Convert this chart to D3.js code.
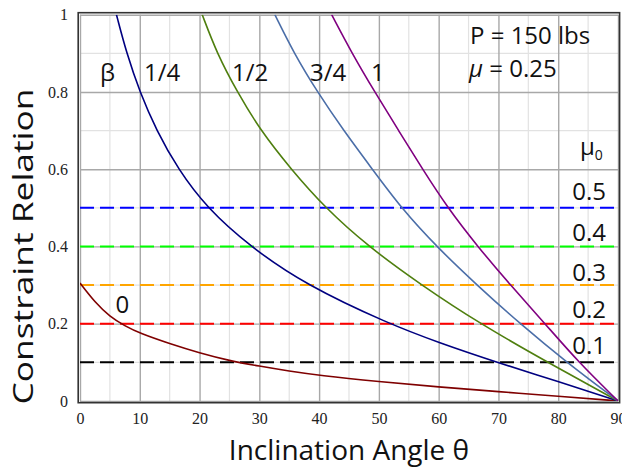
<!DOCTYPE html>
<html>
<head>
<meta charset="utf-8">
<script src="https://cdnjs.cloudflare.com/ajax/libs/d3/7.8.5/d3.min.js"></script>
<style>
  body { margin: 0; background: #fff; }
  text { font-family: "Open Sans", sans-serif; fill: #111; }
  .tick text { font-family: "Liberation Serif", serif; font-size: 16px; fill: #222; }
</style>
</head>
<body>
<svg id="chart" width="622" height="469"></svg>
<script>
// curves: [theta, constraint relation]
var beta0 = [[0,0.305],[2.5,0.255],[5,0.218],[7.5,0.194],[10,0.175],[15,0.148],[20,0.124],[25,0.104],[30,0.09],[35,0.077],[40,0.066],[50,0.05],[60,0.036],[70,0.024],[80,0.012],[90,0]];
var beta14 = [[6.1,1],[7.8,0.9],[10,0.8],[12.8,0.7],[16.4,0.6],[21.2,0.5],[28.4,0.4],[37.8,0.3],[51.6,0.2],[60,0.151],[69.7,0.1],[80,0.05],[90,0]];
var beta12 = [[20.45,1],[22.9,0.9],[26.3,0.8],[30.2,0.7],[35.3,0.6],[41,0.5],[48.2,0.4],[57.1,0.3],[66.9,0.2],[78.2,0.1],[90,0]];
var beta34 = [[32.6,1],[35.8,0.9],[39.7,0.8],[44.1,0.7],[48.9,0.6],[53.7,0.5],[59.6,0.4],[66.4,0.3],[73.6,0.2],[81.4,0.1],[90,0]];
var beta1 = [[42.1,1],[45.5,0.9],[49.3,0.8],[53.3,0.7],[57.3,0.6],[61.5,0.5],[66.5,0.4],[72,0.3],[77.8,0.2],[83.4,0.1],[90,0]];

var mu0Levels = [0.5, 0.4, 0.3, 0.2, 0.1];
var xTicks = [0,10,20,30,40,50,60,70,80,90];
var yTicks = [0,0.2,0.4,0.6,0.8,1];

var svg = d3.select("#chart");
var padL = 80, padT = 14.7, w = 538, h = 386.2;

var x = d3.scaleLinear().domain([0, 90]).range([padL, padL + w]);
var y = d3.scaleLinear().domain([0, 1]).range([padT + h, padT]);

// grid, minor then major
var minorX = d3.range(5, 90, 10), minorY = [0.1, 0.3, 0.5, 0.7, 0.9];
svg.append("g").selectAll("line").data(minorX).enter().append("line")
  .attr("x1", function(d){return x(d)}).attr("x2", function(d){return x(d)})
  .attr("y1", y(0)).attr("y2", y(1))
  .attr("stroke", "#e2e2e2").attr("stroke-width", 1.2);
svg.append("g").selectAll("line").data(minorY).enter().append("line")
  .attr("y1", function(d){return y(d)}).attr("y2", function(d){return y(d)})
  .attr("x1", x(0)).attr("x2", x(90))
  .attr("stroke", "#e2e2e2").attr("stroke-width", 1.2);

svg.append("g")
  .attr("transform", "translate(0," + y(0) + ")")
  .call(d3.axisBottom(x).tickValues(xTicks).tickSize(-h).tickPadding(12).tickFormat(d3.format("d")))
  .call(function(g){ g.select(".domain").remove(); })
  .call(function(g){ g.selectAll(".tick line").attr("stroke", "#a8a8a8").attr("stroke-width", 1.4); });

svg.append("g")
  .attr("transform", "translate(" + x(0) + ",0)")
  .call(d3.axisLeft(y).tickValues(yTicks).tickSize(-w).tickPadding(12).tickFormat(function(d){ return d === 0 || d === 1 ? String(d) : d.toFixed(1); }))
  .call(function(g){ g.select(".domain").remove(); })
  .call(function(g){ g.selectAll(".tick line").attr("stroke", "#a8a8a8").attr("stroke-width", 1.4); });

// frame
svg.append("rect")
  .attr("x", x(0) - 1.8).attr("y", y(1) - 2)
  .attr("width", w + 3.4).attr("height", h + 3.8)
  .attr("fill", "none").attr("stroke", "#333").attr("stroke-width", 1.6);

// friction levels
var dashColors = ["#0000ff", "#00ff00", "#ffa500", "#ff0000", "#000000"];
svg.append("g").selectAll("line").data(mu0Levels).enter().append("line")
  .attr("x1", x(0)).attr("x2", x(90))
  .attr("y1", function(d){return y(d)}).attr("y2", function(d){return y(d)})
  .attr("stroke", function(d, i){ return dashColors[i]; })
  .attr("stroke-width", 2)
  .attr("stroke-dasharray", "14,6");

svg.append("clipPath").attr("id", "plotClip")
  .append("rect").attr("x", x(0)).attr("y", y(1)).attr("width", w).attr("height", h);

var line = d3.line()
  .x(function(d){ return x(d[0]); })
  .y(function(d){ return y(d[1]); })
  .curve(d3.curveBasis);

var curves = [beta0, beta14, beta12, beta34, beta1];
var curveColors = ["#7f0000", "#000080", "#4f7f0f", "#4b6ea8", "#800080"];
svg.append("g").attr("clip-path", "url(#plotClip)")
  .selectAll("path").data(curves).enter().append("path")
  .attr("d", line)
  .attr("fill", "none")
  .attr("stroke", function(d, i){ return curveColors[i]; })
  .attr("stroke-width", 1.6);

// beta labels
var betaLabels = [
  {t: "\u03b2", x: 100, y: 81},
  {t: "1/4", x: 144, y: 81},
  {t: "1/2", x: 232, y: 81},
  {t: "3/4", x: 310, y: 81},
  {t: "1", x: 371, y: 81},
  {t: "0", x: 115.5, y: 312.5}
];
svg.append("g").selectAll("text").data(betaLabels).enter().append("text")
  .attr("x", function(d){return d.x}).attr("y", function(d){return d.y})
  .style("font-size", "24px")
  .text(function(d){return d.t});

svg.append("text").attr("x", 470).attr("y", 44.3).style("font-size", "24px").text("P = 150 lbs");
var mu = svg.append("text").attr("x", 469).attr("y", 77.3).style("font-size", "24px");
mu.append("tspan").style("font-style", "italic").text("\u03bc");
mu.append("tspan").text(" = 0.25");

var mu0 = svg.append("text").attr("x", 580).attr("y", 155).style("font-size", "24px");
mu0.append("tspan").text("\u03bc");
mu0.append("tspan").attr("dy", 5).style("font-size", "14px").text("0");

var mu0LabelY = [200, 240.5, 280.7, 318.3, 354];
svg.append("g").selectAll("text").data(mu0Levels).enter().append("text")
  .attr("x", 606).attr("y", function(d, i){ return mu0LabelY[i]; })
  .attr("text-anchor", "end")
  .style("font-size", "24px")
  .text(function(d){ return d.toFixed(1); });

// axis titles
svg.append("text")
  .attr("x", x(45)).attr("y", 460)
  .attr("text-anchor", "middle")
  .style("font-size", "28px")
  .text("Inclination Angle \u03b8");

svg.append("text")
  .attr("transform", "translate(33,246.5) rotate(-90)")
  .attr("text-anchor", "middle")
  .attr("textLength", 316).attr("lengthAdjust", "spacingAndGlyphs")
  .style("font-size", "28px")
  .text("Constraint Relation");
</script>
</body>
</html>
